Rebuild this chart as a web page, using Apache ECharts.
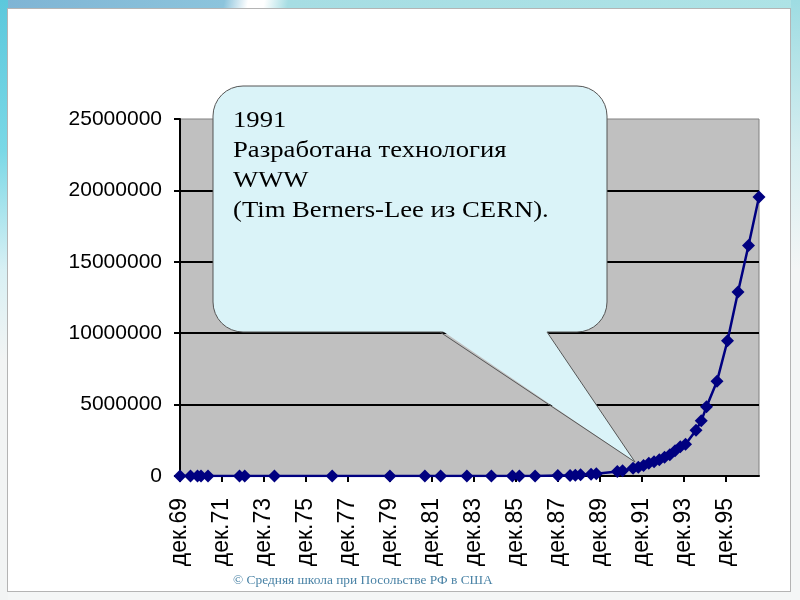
<!DOCTYPE html>
<html>
<head>
<meta charset="utf-8">
<script src="https://cdn.jsdelivr.net/npm/echarts@6/dist/echarts.min.js"></script>
<style>
  html, body { margin:0; padding:0; width:800px; height:600px; overflow:hidden; background:#f4f6f6; }
  #topband { position:absolute; left:0; top:0; width:800px; height:9px;
    background: linear-gradient(100deg, #7fb4d4 0%, #8cc4dc 28%, #ffffff 31%, #ffffff 33%, #a6dde3 36%, #aee3e6 100%); }
  #leftband { position:absolute; left:0; top:0; width:8px; height:600px;
    background: linear-gradient(180deg, #5cc8dc 0%, #7ad8e6 25%, #d8f0f4 45%, #f2f4f4 60%); }
  #rightband { position:absolute; right:0; top:0; width:9px; height:600px;
    background: linear-gradient(180deg, #9edce2 0%, #d6eef0 25%, #f4f6f6 45%); }
  #frame { position:absolute; left:7px; top:8px; width:784px; height:584px; background:#ffffff; border:1px solid #b4b4b4; box-sizing:border-box; }
  #main { position:absolute; left:0; top:0; width:800px; height:600px; }
</style>
</head>
<body>
<div id="topband"></div>
<div id="leftband"></div>
<div id="rightband"></div>
<div id="frame"></div>
<div id="main"></div>
<script>
// Internet host count (date as YYYY-MM)
const dates = ['1969-12','1970-06','1970-10','1970-12','1971-04','1972-10','1973-01','1974-06','1977-03','1979-12',
  '1981-08','1982-05','1983-08','1984-10','1985-10','1986-02','1986-11','1987-12','1988-07','1988-10',
  '1989-01','1989-07','1989-10','1990-10','1991-01','1991-07','1991-10','1992-01','1992-04','1992-07',
  '1992-10','1993-01','1993-04','1993-07','1993-10','1994-01','1994-07','1994-10','1995-01','1995-07',
  '1996-01','1996-07','1997-01','1997-07'];
const hosts = [4,9,11,13,23,31,35,62,111,188,
  213,235,562,1024,1961,2308,5089,28174,33000,56000,
  80000,130000,159000,313000,376000,535000,617000,727000,890000,992000,
  1136000,1313000,1486000,1776000,2056000,2217000,3212000,3864000,4852000,6642000,
  9472000,12881000,16146000,19540000];
const tickDates = ['1969-12','1971-12','1973-12','1975-12','1977-12','1979-12','1981-12','1983-12',
  '1985-12','1987-12','1989-12','1991-12','1993-12','1995-12'];
const yTicks = [0,5000000,10000000,15000000,20000000,25000000];
const axisStart = '1969-12';
const axisEnd = '1997-07';
const noteLines = ['1991','Разработана технология','WWW','(Tim Berners-Lee из CERN).'];
const footer = '© Средняя школа при Посольстве РФ в США';

function monthIdx(s) {
  const [y, m] = s.split('-').map(Number);
  const [y0, m0] = axisStart.split('-').map(Number);
  return (y - y0) * 12 + (m - m0);
}
const monthNames = ['янв','фев','мар','апр','май','июн','июл','авг','сен','окт','ноя','дек'];
function labelFor(idx) {
  const [y0, m0] = axisStart.split('-').map(Number);
  const total = y0 * 12 + (m0 - 1) + Math.round(idx);
  const y = Math.floor(total / 12), m = total % 12;
  return monthNames[m] + '.' + String(y % 100).padStart(2, '0');
}

const seriesData = dates.map((d, i) => [monthIdx(d), hosts[i]]);
const tickVals = tickDates.map(monthIdx);

const chart = echarts.init(document.getElementById('main'), null, { renderer: 'canvas' });

const tip = [635, 462];
const bubble = { x: 213, y: 86, w: 394, h: 246, r: 30 };
const baseL = 440, baseR = 547;
const bottomY = bubble.y + bubble.h;

chart.setOption({
  backgroundColor: 'transparent',
  animation: false,
  grid: {
    left: 180, right: 41, top: 119, bottom: 124,
    show: true, backgroundColor: '#c0c0c0', borderColor: '#808080', borderWidth: 1
  },
  xAxis: {
    type: 'value',
    min: monthIdx(axisStart), max: monthIdx(axisEnd),
    axisLine: { show: true, onZero: false, lineStyle: { color: '#000', width: 2 } },
    axisTick: { show: true, customValues: tickVals, length: 6, lineStyle: { color: '#000', width: 2 } },
    axisLabel: {
      customValues: tickVals, rotate: 90, margin: 22, padding: [9, 0, 0, 0],
      fontFamily: 'Liberation Sans', fontSize: 23, color: '#000',
      formatter: v => labelFor(v)
    },
    splitLine: { show: false }
  },
  yAxis: {
    type: 'value', min: yTicks[0], max: yTicks[yTicks.length - 1], interval: yTicks[1] - yTicks[0],
    axisLine: { show: true, lineStyle: { color: '#000', width: 2 } },
    axisTick: { show: true, length: 6, lineStyle: { color: '#000', width: 2 } },
    axisLabel: { margin: 18, fontFamily: 'Liberation Sans', fontSize: 21, color: '#000',
      formatter: v => String(v) },
    splitLine: { show: true, showMinLine: false, showMaxLine: false, lineStyle: { color: '#000', width: 2 } }
  },
  series: [{
    type: 'line',
    data: seriesData,
    symbol: 'diamond',
    symbolSize: 13,
    lineStyle: { color: '#000080', width: 2.5 },
    itemStyle: { color: '#000080' },
    z: 3
  }],
  graphic: [
    {
      type: 'rect', z: 100,
      shape: { x: bubble.x, y: bubble.y, width: bubble.w, height: bubble.h, r: bubble.r },
      style: { fill: '#daf3f8', stroke: '#555555', lineWidth: 1 }
    },
    {
      type: 'polygon', z: 101,
      shape: { points: [[baseL + 1, bottomY - 2], [tip[0], tip[1]], [baseR - 1, bottomY - 2]] },
      style: { fill: '#daf3f8' }
    },
    {
      type: 'polyline', z: 102,
      shape: { points: [[baseL, bottomY], [tip[0], tip[1]], [baseR, bottomY]] },
      style: { fill: null, stroke: '#555555', lineWidth: 1 }
    },
    {
      type: 'text', z: 103, x: 233, y: 106, scaleX: 1.16,
      style: { text: noteLines.join('\n'), font: '23px "Liberation Serif"', fill: '#000', lineHeight: 30 }
    },
    {
      type: 'text', z: 103, left: 233, top: 574,
      style: { text: footer, font: '13.4px "Liberation Serif"', fill: '#4a83a6' }
    }
  ]
});
</script>
</body>
</html>
